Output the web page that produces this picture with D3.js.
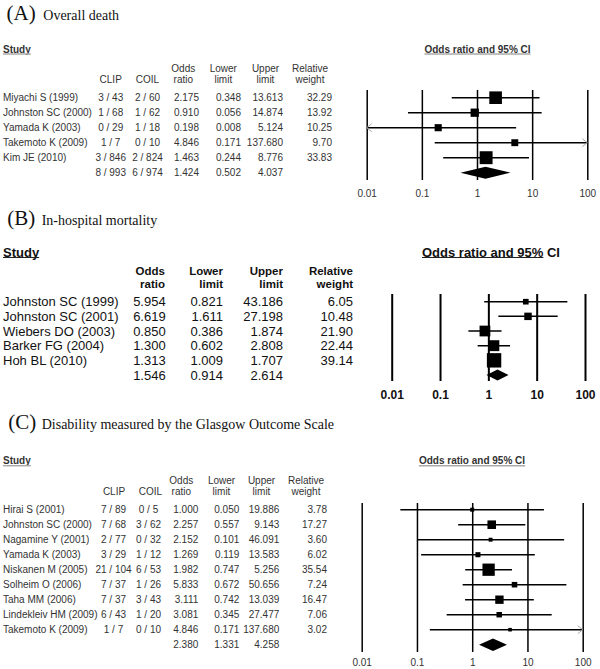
<!DOCTYPE html>
<html><head><meta charset="utf-8">
<script src="https://cdn.jsdelivr.net/npm/d3@7"></script>
<style>body{margin:0;background:#fff}svg{display:block}</style>
</head><body>
<svg id="chart" width="600" height="669"></svg>
<script>
// ---------- DATA ----------
const tickValues = [0.01, 0.1, 1, 10, 100];

// Panel A: Overall death
const studiesA = ["Miyachi S (1999)", "Johnston SC (2000)", "Yamada K (2003)", "Takemoto K (2009)", "Kim JE (2010)"];
const clipA = ["3 / 43", "1 / 68", "0 / 29", "1 / 7", "3 / 846"];
const coilA = ["2 / 60", "1 / 62", "1 / 18", "0 / 10", "2 / 824"];
const orA = [2.175, 0.910, 0.198, 4.846, 1.463];
const loA = [0.348, 0.056, 0.008, 0.171, 0.244];
const hiA = [13.613, 14.874, 5.124, 137.680, 8.776];
const wA = [32.29, 13.92, 10.25, 9.70, 33.83];
const totalA = {clip: "8 / 993", coil: "6 / 974", or: 1.424, lo: 0.502, hi: 4.037};

// Panel B: In-hospital mortality
const studiesB = ["Johnston SC (1999)", "Johnston SC (2001)", "Wiebers DO (2003)", "Barker FG (2004)", "Hoh BL (2010)"];
const orB = [5.954, 6.619, 0.850, 1.300, 1.313];
const loB = [0.821, 1.611, 0.386, 0.602, 1.009];
const hiB = [43.186, 27.198, 1.874, 2.808, 1.707];
const wB = [6.05, 10.48, 21.90, 22.44, 39.14];
const totalB = {or: 1.546, lo: 0.914, hi: 2.614};

// Panel C: Disability (GOS)
const studiesC = ["Hirai S (2001)", "Johnston SC (2000)", "Nagamine Y (2001)", "Yamada K (2003)", "Niskanen M (2005)", "Solheim O (2006)", "Taha MM (2006)", "Lindekleiv HM (2009)", "Takemoto K (2009)"];
const clipC = ["7 / 89", "7 / 68", "2 / 77", "3 / 29", "21 / 104", "7 / 37", "7 / 37", "6 / 43", "1 / 7"];
const coilC = ["0 / 5", "3 / 62", "0 / 32", "1 / 12", "6 / 53", "1 / 26", "3 / 43", "1 / 20", "0 / 10"];
const orC = [1.000, 2.257, 2.152, 1.269, 1.982, 5.833, 3.111, 3.081, 4.846];
const loC = [0.050, 0.557, 0.101, 0.119, 0.747, 0.672, 0.742, 0.345, 0.171];
const hiC = [19.886, 9.143, 46.091, 13.583, 5.256, 50.656, 13.039, 27.477, 137.680];
const wC = [3.78, 17.27, 3.60, 6.02, 35.54, 7.24, 16.47, 7.06, 3.02];
const totalC = {clip: "", coil: "", or: 2.380, lo: 1.331, hi: 4.258};

// ---------- DRAW ----------
const SANS = "'Liberation Sans', Arial, sans-serif";
const SERIF = "'Liberation Serif', 'Times New Roman', serif";
const svg = d3.select("#chart");
const f3 = d3.format(".3f"), f2 = d3.format(".2f");

function panel(o) {
  const g = svg.append("g");
  // title
  g.append("text").attr("x", o.titleX).attr("y", o.titleY)
    .attr("font-family", SERIF).attr("font-size", 21).attr("fill", "#111").text(o.letter);
  g.append("text").attr("x", o.titleX2).attr("y", o.titleY)
    .attr("font-family", SERIF).attr("font-size", 14).attr("fill", "#111").text(o.title);

  const txt = (x, y, s, anchor, weight, size) => g.append("text")
    .attr("x", x).attr("y", y).attr("dy", "0.35em")
    .attr("text-anchor", anchor || "start")
    .attr("font-family", SANS).attr("font-size", size || o.fs)
    .attr("font-weight", weight || "normal").attr("fill", o.color).text(s);

  // Study header with underline
  const st = txt(3, o.studyY, "Study", "start", "bold");
  const stw = st.node().getComputedTextLength();
  g.append("line").attr("x1", 3).attr("x2", 3 + stw).attr("y1", o.studyY + o.ulOff).attr("y2", o.studyY + o.ulOff)
    .attr("stroke", o.ulColor).attr("stroke-width", o.ulW);

  // column headers
  o.headers.forEach(h => {
    if (h[0]) txt(h[2], o.hY1, h[0], h[3], o.hWeight, o.hFs);
    txt(h[2], o.hY2, h[1], h[3], o.hWeight, o.hFs);
  });

  const n = o.studies.length;
  const yRow = d3.scaleLinear().domain([0, n]).range([o.rowY0, o.rowYT]);
  const x = d3.scaleLog().domain([tickValues[0], tickValues[tickValues.length - 1]]).range([o.x0, o.x1]);
  const [dMin, dMax] = x.domain();

  // table rows
  o.studies.forEach((s, i) => {
    const y = yRow(i);
    txt(3, y, s);
    if (o.clip) { txt(o.cols.clip, y, o.clip[i], "middle"); txt(o.cols.coil, y, o.coil[i], "middle"); }
    txt(o.cols.or, y, f3(o.or[i]), "end");
    txt(o.cols.lo, y, f3(o.lo[i]), "end");
    txt(o.cols.hi, y, f3(o.hi[i]), "end");
    txt(o.cols.w, y, f2(o.w[i]), "end");
  });
  const yT = yRow(n);
  if (o.clip) { txt(o.cols.clip, yT, o.total.clip, "middle"); txt(o.cols.coil, yT, o.total.coil, "middle"); }
  txt(o.cols.or, yT, f3(o.total.or), "end");
  txt(o.cols.lo, yT, f3(o.total.lo), "end");
  txt(o.cols.hi, yT, f3(o.total.hi), "end");

  // plot title with underline
  const pt = g.append("text").attr("x", o.ptX).attr("y", o.studyY).attr("dy", "0.35em")
    .attr("text-anchor", "middle").attr("font-family", SANS).attr("font-size", o.fs)
    .attr("font-weight", "bold").attr("fill", o.color).text("Odds ratio and 95% CI");
  const ptn = pt.node();
  const full = ptn.getComputedTextLength();
  const ulLen = o.ulPartial ? ptn.getSubStringLength(0, 18) : full;
  g.append("line").attr("x1", o.ptX - full / 2).attr("x2", o.ptX - full / 2 + ulLen)
    .attr("y1", o.studyY + o.ulOff).attr("y2", o.studyY + o.ulOff)
    .attr("stroke", o.ulColor).attr("stroke-width", o.ulW);

  // axis (vertical reference lines + labels)
  const ax = g.append("g").attr("transform", `translate(0,${o.lineBot})`)
    .call(d3.axisBottom(x).tickValues(tickValues).tickFormat(d => String(d))
      .tickSizeInner(-(o.lineBot - o.lineTop)).tickSizeOuter(0));
  ax.select(".domain").remove();
  ax.selectAll(".tick line").attr("stroke", "#000").attr("stroke-width", o.vW);
  ax.selectAll(".tick text").attr("y", o.labelY - o.lineBot).attr("dy", "0.35em")
    .attr("font-family", SANS).attr("font-size", o.tickFs).attr("font-weight", o.tickWeight)
    .attr("fill", o.color);

  // CIs and boxes
  o.studies.forEach((s, i) => {
    const y = yRow(i);
    const lo = Math.max(o.lo[i], dMin), hi = Math.min(o.hi[i], dMax);
    g.append("line").attr("x1", x(lo)).attr("x2", x(hi)).attr("y1", y).attr("y2", y)
      .attr("stroke", "#000").attr("stroke-width", o.ciW);
    if (o.lo[i] < dMin) {
      const ax0 = x(dMin);
      g.append("path").attr("d", `M${ax0 + 5},${y - 4}L${ax0},${y}L${ax0 + 5},${y + 4}`)
        .attr("fill", "none").attr("stroke", "#aaa").attr("stroke-width", 1);
    }
    if (o.hi[i] > dMax) {
      const ax1 = x(dMax);
      g.append("path").attr("d", `M${ax1 - 5},${y - 4}L${ax1},${y}L${ax1 - 5},${y + 4}`)
        .attr("fill", "none").attr("stroke", "#aaa").attr("stroke-width", 1);
    }
    const sz = o.k * Math.sqrt(o.w[i]);
    g.append("rect").attr("x", x(o.or[i]) - sz / 2).attr("y", y - sz / 2)
      .attr("width", sz).attr("height", sz).attr("fill", "#000");
  });

  // summary diamond
  const h = o.dH / 2;
  g.append("path")
    .attr("d", `M${x(o.total.lo)},${yT}L${x(o.total.or)},${yT - h}L${x(o.total.hi)},${yT}L${x(o.total.or)},${yT + h}Z`)
    .attr("fill", "#000");
}

panel({
  letter: "(A)", title: "Overall death", titleX: 6.5, titleX2: 43.3, titleY: 19.5,
  fs: 10, color: "#333", studyY: 49, ulOff: 5, ulColor: "#aaa", ulW: 1.5,
  hY1: 68, hY2: 79, hWeight: "normal", hFs: 10,
  headers: [["", "CLIP", 110.7, "middle"], ["", "COIL", 147.5, "middle"], ["Odds", "ratio", 183.3, "middle"],
            ["Lower", "limit", 223.3, "middle"], ["Upper", "limit", 265.5, "middle"], ["Relative", "weight", 310, "middle"]],
  studies: studiesA, clip: clipA, coil: coilA, or: orA, lo: loA, hi: hiA, w: wA, total: totalA,
  cols: {clip: 110.7, coil: 147.5, or: 199, lo: 241, hi: 283, w: 332},
  rowY0: 97.7, rowYT: 172.7,
  x0: 366.7, x1: 587.3, lineTop: 90, lineBot: 180, labelY: 193, ptX: 477.5,
  vW: 1.5, ciW: 1.4, tickFs: 10, tickWeight: "normal", k: 2.22, dH: 12, ulPartial: false
});

panel({
  letter: "(B)", title: "In-hospital mortality", titleX: 7.3, titleX2: 41.7, titleY: 225.3,
  fs: 13, color: "#111", studyY: 252, ulOff: 5.5, ulColor: "#222", ulW: 1.2,
  hY1: 271, hY2: 283.7, hWeight: "bold", hFs: 11.5,
  headers: [["Odds", "ratio", 165, "end"], ["Lower", "limit", 223, "end"], ["Upper", "limit", 283, "end"], ["Relative", "weight", 353, "end"]],
  studies: studiesB, clip: null, coil: null, or: orB, lo: loB, hi: hiB, w: wB, total: totalB,
  cols: {or: 165.7, lo: 223, hi: 283, w: 353},
  rowY0: 301.7, rowYT: 375,
  x0: 391.7, x1: 585, lineTop: 294, lineBot: 381, labelY: 395, ptX: 491,
  vW: 2, ciW: 1.5, tickFs: 12, tickWeight: "bold", k: 2.3, dH: 11, ulPartial: true
});

panel({
  letter: "(C)", title: "Disability measured by the Glasgow Outcome Scale", titleX: 8.3, titleX2: 41.7, titleY: 429.3,
  fs: 10, color: "#333", studyY: 460.7, ulOff: 5, ulColor: "#aaa", ulW: 1.5,
  hY1: 480, hY2: 491.7, hWeight: "normal", hFs: 10,
  headers: [["", "CLIP", 114, "middle"], ["", "COIL", 150.5, "middle"], ["Odds", "ratio", 181.3, "middle"],
            ["Lower", "limit", 221.5, "middle"], ["Upper", "limit", 261.5, "middle"], ["Relative", "weight", 306, "middle"]],
  studies: studiesC, clip: clipC, coil: coilC, or: orC, lo: loC, hi: hiC, w: wC, total: totalC,
  cols: {clip: 113.5, coil: 148.5, or: 198.3, lo: 239.3, hi: 279.3, w: 327},
  rowY0: 509.7, rowYT: 644.7,
  x0: 361.7, x1: 582.7, lineTop: 503, lineBot: 652, labelY: 662.8, ptX: 472,
  vW: 1.5, ciW: 1.4, tickFs: 10, tickWeight: "normal", k: 2.06, dH: 12.5, ulPartial: false
});
</script>
</body></html>
